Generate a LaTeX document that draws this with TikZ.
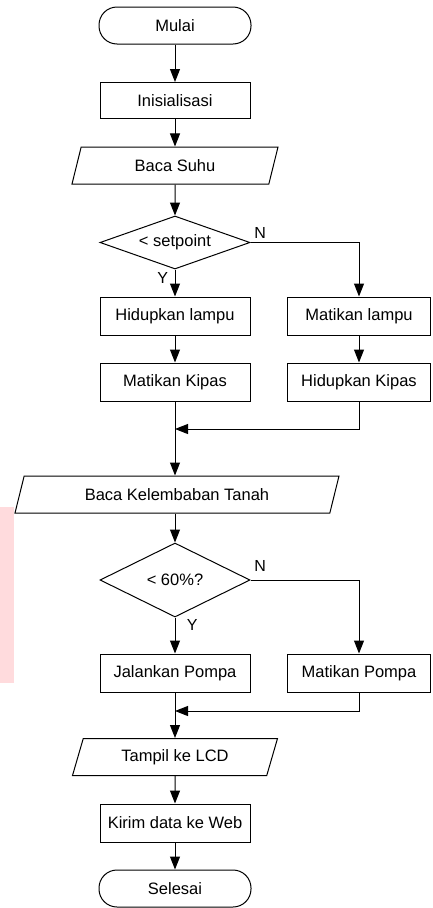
\documentclass[tikz,border=0pt]{standalone}
\usepackage{fontspec}
\setmainfont{Liberation Sans}
\usetikzlibrary{shapes.geometric,arrows.meta}

\definecolor{pinkmark}{RGB}{255,219,221}

\begin{document}
\begin{tikzpicture}[x=1pt, y=-1pt,
  font=\fontsize{16.5}{20}\selectfont,
  line width=1pt,
  terminal/.style={draw, rectangle, rounded corners=18pt, minimum width=152pt, minimum height=37pt},
  process/.style={draw, rectangle, minimum width=150pt, minimum height=38pt},
  iobox/.style={draw, trapezium, trapezium left angle=64, trapezium right angle=116, trapezium stretches body, minimum height=37pt},
  decision/.style={draw, diamond, inner sep=0pt, minimum width=150pt},
  arr/.style={-{Triangle[length=13pt,width=10pt]}},
  yn/.style={font=\fontsize{16}{19}\selectfont}]

% column positions
\newcommand{\lcol}{175}
\newcommand{\rcol}{359}

% picture frame
\useasboundingbox (0,0) rectangle (432,908);

% faint mark on the left edge
\fill[pinkmark] (0,507) rectangle (14,683);

% main column
\node[terminal] (mulai) at (\lcol,25.5) {Mulai};
\node[process, minimum height=36pt] (init) at (\lcol,100.5) {Inisialisasi};
\node[iobox, minimum width=206pt] (suhu) at (\lcol,165.5) {Baca Suhu};
\node[decision, aspect=2.8, minimum height=53pt] (cek1) at (\lcol,242.5) {< setpoint};
\node[process] (hlampu) at (\lcol,316) {Hidupkan lampu};
\node[process, minimum width=143pt] (mlampu) at (\rcol,316) {Matikan lampu};
\node[process] (mkipas) at (\lcol,382) {Matikan Kipas};
\node[process, minimum width=143pt] (hkipas) at (\rcol,382) {Hidupkan Kipas};
\coordinate (gabung1) at (\lcol,429);
\node[iobox, minimum width=324pt] (tanah) at (177,494.5) {Baca Kelembaban Tanah};
\node[decision, aspect=2, minimum height=74pt] (cek2) at (\lcol,580) {< 60\%?};
\node[process] (jpompa) at (\lcol,673) {Jalankan Pompa};
\node[process, minimum width=143pt] (mpompa) at (\rcol,673) {Matikan Pompa};
\coordinate (gabung2) at (\lcol,711);
\node[iobox, minimum width=205pt] (lcd) at (\lcol,757) {Tampil ke LCD};
\node[process] (web) at (\lcol,823) {Kirim data ke Web};
\node[terminal] (selesai) at (\lcol,888.5) {Selesai};

% connectors
\draw[arr] (mulai) -- (init);
\draw[arr] (init) -- (suhu);
\draw[arr] (suhu) -- (cek1);
\draw[arr] (cek1) -- node[yn, pos=0.3, left, xshift=-3pt] {Y} (hlampu);
\draw[arr] (cek1.east) node[yn, above right] {N} -| (mlampu);
\draw[arr] (hlampu) -- (mkipas);
\draw[arr] (mlampu) -- (hkipas);
\draw[arr] (mkipas.south) -- (mkipas.south |- tanah.north);
\draw[arr] (hkipas.south) |- (gabung1);
\draw[arr] (cek2.north |- tanah.south) -- (cek2);
\draw[arr] (cek2) -- node[yn, pos=0.22, right, xshift=8pt] {Y} (jpompa);
\draw[arr] (cek2.east) node[yn, above right, yshift=5pt] {N} -| (mpompa);
\draw[arr] (jpompa) -- (lcd);
\draw[arr] (mpompa.south) |- (gabung2);
\draw[arr] (lcd) -- (web);
\draw[arr] (web) -- (selesai);

\end{tikzpicture}
\end{document}
